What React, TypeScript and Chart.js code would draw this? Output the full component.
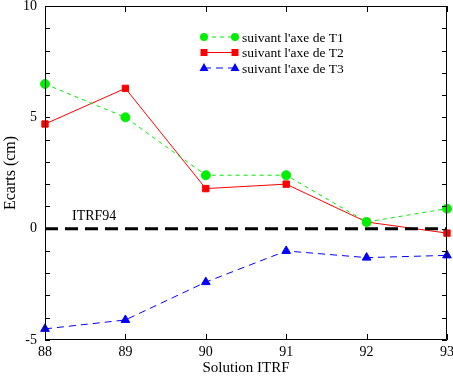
import React, { useEffect, useRef } from "react";
import { Chart, registerables } from "chart.js";

Chart.register(...registerables);

const years = [88, 89, 90, 91, 92, 93];
const t1 = [6.5, 5.0, 2.4, 2.4, 0.3, 0.9];
const t2 = [4.7, 6.3, 1.8, 2.0, 0.3, -0.2];
const t3 = [-4.5, -4.1, -2.4, -1.0, -1.3, -1.2];
const legendLabels = ["suivant l'axe de T1", "suivant l'axe de T2", "suivant l'axe de T3"];
const refLabel = "ITRF94";

const GREEN = "#00ee00";
const RED = "#ff0000";
const BLUE = "#0000ff";
const FONT = "'Liberation Serif', 'Times New Roman', serif";

const pts = (ys: number[]) => years.map((x, i) => ({ x, y: ys[i] }));

const framePlugin = {
  id: "frame",
  afterDatasetsDraw(chart: any) {
    const { ctx, chartArea: a, scales } = chart;
    const xs = scales.x;
    const ys = scales.y;
    ctx.save();
    ctx.strokeStyle = "#000";
    ctx.lineWidth = 1;
    ctx.beginPath();
    ctx.rect(a.left + 0.5, a.top + 0.5, a.right - a.left - 1, a.bottom - a.top - 1);
    ctx.stroke();
    ctx.beginPath();
    for (let v = -5; v <= 10; v++) {
      const y = Math.round(ys.getPixelForValue(v)) + 0.5;
      ctx.moveTo(a.left, y);
      ctx.lineTo(a.left + 5, y);
      ctx.moveTo(a.right, y);
      ctx.lineTo(a.right - 5, y);
    }
    for (const v of years) {
      const x = Math.round(xs.getPixelForValue(v)) + 0.5;
      ctx.moveTo(x, a.bottom);
      ctx.lineTo(x, a.bottom - 6);
      ctx.moveTo(x, a.top);
      ctx.lineTo(x, a.top + 6);
    }
    ctx.stroke();

    // reference label
    ctx.fillStyle = "#000";
    ctx.font = `14px ${FONT}`;
    ctx.textAlign = "left";
    ctx.textBaseline = "alphabetic";
    ctx.fillText(refLabel, xs.getPixelForValue(88) + 27, ys.getPixelForValue(0) - 9);

    // legend
    const rows = [
      { c: GREEN, dash: [4, 4], shape: "circle" },
      { c: RED, dash: [], shape: "square" },
      { c: BLUE, dash: [7, 5], shape: "triangle" },
    ];
    const lx0 = 204, lx1 = 235;
    rows.forEach((r, i) => {
      const y = 37 + i * 15.5;
      ctx.strokeStyle = r.c;
      ctx.fillStyle = r.c;
      ctx.setLineDash(r.dash);
      ctx.beginPath();
      ctx.moveTo(lx0, y);
      ctx.lineTo(lx1, y);
      ctx.stroke();
      ctx.setLineDash([]);
      for (const x of [lx0, lx1]) {
        ctx.beginPath();
        if (r.shape === "circle") ctx.arc(x, y, 4, 0, Math.PI * 2);
        else if (r.shape === "square") ctx.rect(x - 3.5, y - 3.5, 7, 7);
        else {
          ctx.moveTo(x, y - 5);
          ctx.lineTo(x + 4.5, y + 3);
          ctx.lineTo(x - 4.5, y + 3);
          ctx.closePath();
        }
        ctx.fill();
      }
      ctx.fillStyle = "#000";
      ctx.font = `13.5px ${FONT}`;
      ctx.textBaseline = "middle";
      ctx.fillText(legendLabels[i], 242, y + 1);
    });
    ctx.restore();
  },
};

export default function App() {
  const ref = useRef<HTMLCanvasElement>(null);
  useEffect(() => {
    document.body.style.margin = "0";
    const chart = new Chart(ref.current!, {
      type: "line",
      data: {
        datasets: [
          {
            label: refLabel,
            data: [{ x: 88, y: 0 }, { x: 93, y: 0 }],
            borderColor: "#000",
            borderWidth: 3,
            borderDash: [13, 7],
            pointRadius: 0,
            clip: false as any,
          },
          {
            label: legendLabels[0],
            data: pts(t1),
            borderColor: GREEN,
            backgroundColor: GREEN,
            borderWidth: 1,
            borderDash: [4, 4],
            pointStyle: "circle",
            pointRadius: 4.5,
            clip: false as any,
          },
          {
            label: legendLabels[1],
            data: pts(t2),
            borderColor: RED,
            backgroundColor: RED,
            borderWidth: 1,
            pointStyle: "rect",
            pointRadius: 4.5,
            clip: false as any,
          },
          {
            label: legendLabels[2],
            data: pts(t3),
            borderColor: BLUE,
            backgroundColor: BLUE,
            borderWidth: 1,
            borderDash: [7, 5],
            pointStyle: "triangle",
            pointRadius: 5,
            clip: false as any,
          },
        ],
      },
      options: {
        animation: false,
        responsive: false,
        events: [],
        layout: { padding: { top: 5, right: 6, left: 0, bottom: 0 } },
        plugins: { legend: { display: false }, tooltip: { enabled: false } },
        scales: {
          x: {
            type: "linear",
            min: 88,
            max: 93,
            grid: { display: false, drawTicks: false },
            border: { display: false },
            ticks: {
              stepSize: 1,
              padding: 4,
              color: "#000",
              font: { family: FONT, size: 14 },
              callback: (v: any) => String(v),
            },
            title: {
              display: true,
              text: "Solution ITRF",
              color: "#000",
              font: { family: FONT, size: 15 },
              padding: { top: 0, bottom: 0 },
            },
            afterFit: (s: any) => {
              s.height = 37;
              s.paddingLeft = 0;
              s.paddingRight = 0;
            },
          },
          y: {
            min: -5,
            max: 10,
            grid: { display: false, drawTicks: false },
            border: { display: false },
            ticks: {
              stepSize: 1,
              padding: 8,
              color: "#000",
              font: { family: FONT, size: 14 },
              autoSkip: false,
              callback: (v: any) => (Number(v) % 5 === 0 ? String(v) : ""),
            },
            title: {
              display: true,
              text: "Ecarts (cm)",
              color: "#000",
              font: { family: FONT, size: 16 },
              padding: { top: 1, bottom: 0 },
            },
            afterFit: (s: any) => {
              s.width = 45;
              s.paddingTop = 0;
              s.paddingBottom = 0;
            },
          },
        },
      },
      plugins: [framePlugin],
    });
    return () => chart.destroy();
  }, []);
  return (
    <div style={{ position: "fixed", left: 0, top: 0, width: 453, height: 377, background: "#fff" }}>
      <canvas ref={ref} width={453} height={377} style={{ display: "block" }} />
    </div>
  );
}
